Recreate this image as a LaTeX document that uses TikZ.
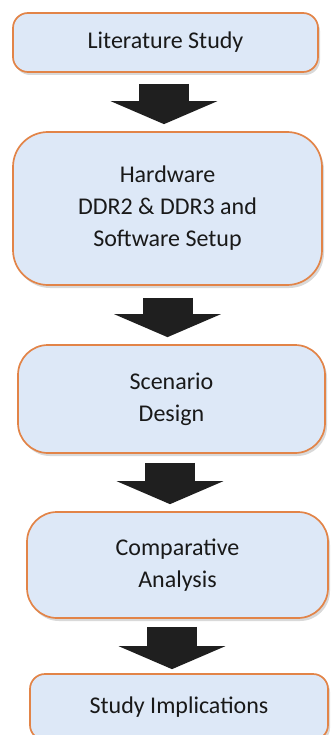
\documentclass[tikz,border=0pt]{standalone}
\usepackage{fontspec}
\setmainfont{Carlito}
\usetikzlibrary{arrows.meta,shadows,calc}
\definecolor{boxfill}{RGB}{221,232,247}
\definecolor{boxline}{RGB}{226,132,72}

\begin{document}
\begin{tikzpicture}[x=1pt, y=1pt,
  stage/.style={draw=boxline, line width=1.7pt, fill=boxfill, align=center,
    inner sep=0pt, text=black!90, font=\fontsize{24}{32}\selectfont,
    drop shadow={shadow xshift=2pt, shadow yshift=-3pt, opacity=0.3}},
  flow/.style={black!88, line width=50pt, -{Triangle[width=106pt, length=23pt]}}]
  \useasboundingbox (0,0) rectangle (333,-735);
  % stages, top to bottom
  \node[stage, minimum width=305pt, minimum height=59pt, rounded corners=15pt] (lit) at (165.5,-42.5) {Literature Study};
  \node[stage, minimum width=309pt, minimum height=153pt, rounded corners=35pt] (hw) at (167.5,-208.5) {Hardware\\DDR2 \& DDR3 and\\Software Setup};
  \node[stage, minimum width=307pt, minimum height=108pt, rounded corners=30pt] (scn) at (171.5,-399) {Scenario\\Design};
  \node[stage, minimum width=301pt, minimum height=106pt, rounded corners=30pt] (cmp) at (177.5,-565) {Comparative\\Analysis};
  \node[stage, minimum width=298pt, minimum height=66pt, rounded corners=15pt] (imp) at (179,-707) {Study Implications};

  \draw[flow] ($(lit.south)+(-1.5pt,-11pt)$) -- ($(lit.south |- hw.north)+(-1.5pt,7pt)$);
  \draw[flow] ($(hw.south)+(0,-12pt)$) -- ($(hw.south |- scn.north)+(0,7pt)$);
  \draw[flow] ($(scn.south)+(-1.5pt,-9pt)$) -- ($(scn.south |- cmp.north)+(-1.5pt,7pt)$);
  \draw[flow] ($(cmp.south)+(-5.5pt,-8pt)$) -- ($(cmp.south |- imp.north)+(-5.5pt,4pt)$);
\end{tikzpicture}
\end{document}
